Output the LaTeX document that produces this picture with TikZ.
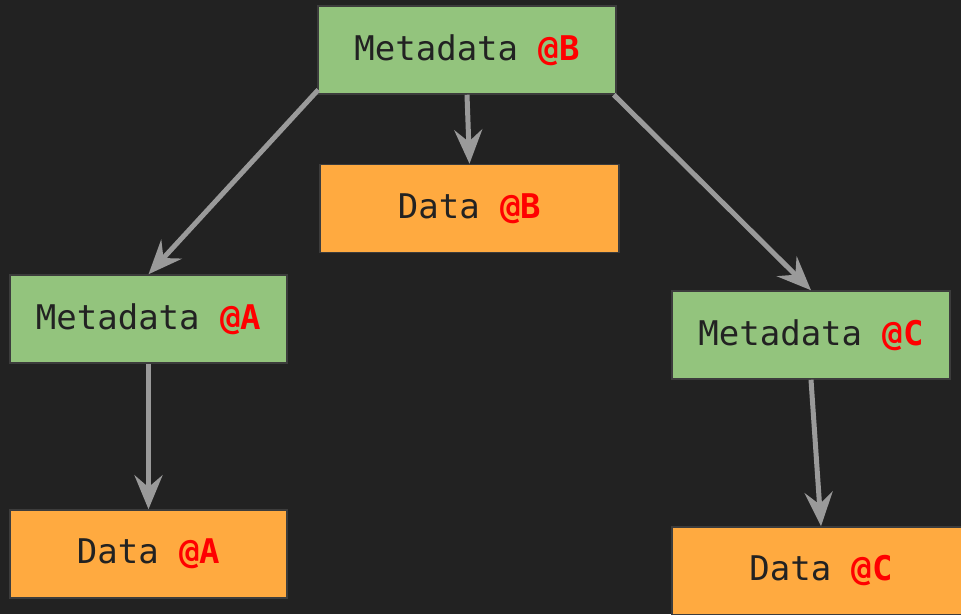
\documentclass[tikz,border=0pt]{standalone}
\usepackage{fontspec}
\setmonofont{DejaVu Sans Mono}
\usetikzlibrary{arrows.meta}
\definecolor{bg}{HTML}{222222}
\definecolor{meta}{HTML}{93C47D}
\definecolor{dat}{HTML}{FFAA40}
\definecolor{edge}{HTML}{9A9A9A}
\definecolor{txt}{HTML}{222222}
\definecolor{brd}{HTML}{3C3C3C}
\tikzset{
  box/.style={draw=brd, line width=1.5pt, minimum height=88pt, inner sep=0pt,
    font=\ttfamily\fontsize{34}{36}\selectfont, text=txt},
  metabox/.style={box, fill=meta},
  databox/.style={box, fill=dat},
  link/.style={draw=edge, line width=5pt, -{Stealth[length=34pt, width=28pt, inset=12pt]}},
}
\newcommand{\tag}[1]{\textcolor{red}{\bfseries @#1}}
\begin{document}
\begin{tikzpicture}[x=1pt, y=-1pt]
\useasboundingbox (0,0) rectangle (961,614);
\fill[bg] (0,0) rectangle (961,614);
\clip (0,0) rectangle (961,614);
\node[metabox, minimum width=298pt] (mB) at (467,50) {Metadata \tag{B}};
\node[databox, minimum width=299pt] (dB) at (469.5,208.5) {Data \tag{B}};
\node[metabox, minimum width=277pt] (mA) at (148.5,319) {Metadata \tag{A}};
\node[databox, minimum width=277pt] (dA) at (148.5,554) {Data \tag{A}};
\node[metabox, minimum width=278pt] (mC) at (811,335) {Metadata \tag{C}};
\node[databox, minimum width=298pt] (dC) at (821,571) {Data \tag{C}};
\draw[link] ([shift={(1,-5)}]mB.south west) -- (mA.north);
\draw[link] (mB.south) -- (dB.north);
\draw[link] ([shift={(-3,0)}]mB.south east) -- (mC.north);
\draw[link] (mA.south) -- (dA.north);
\draw[link] (mC.south) -- (dC.north);
\end{tikzpicture}
\end{document}
